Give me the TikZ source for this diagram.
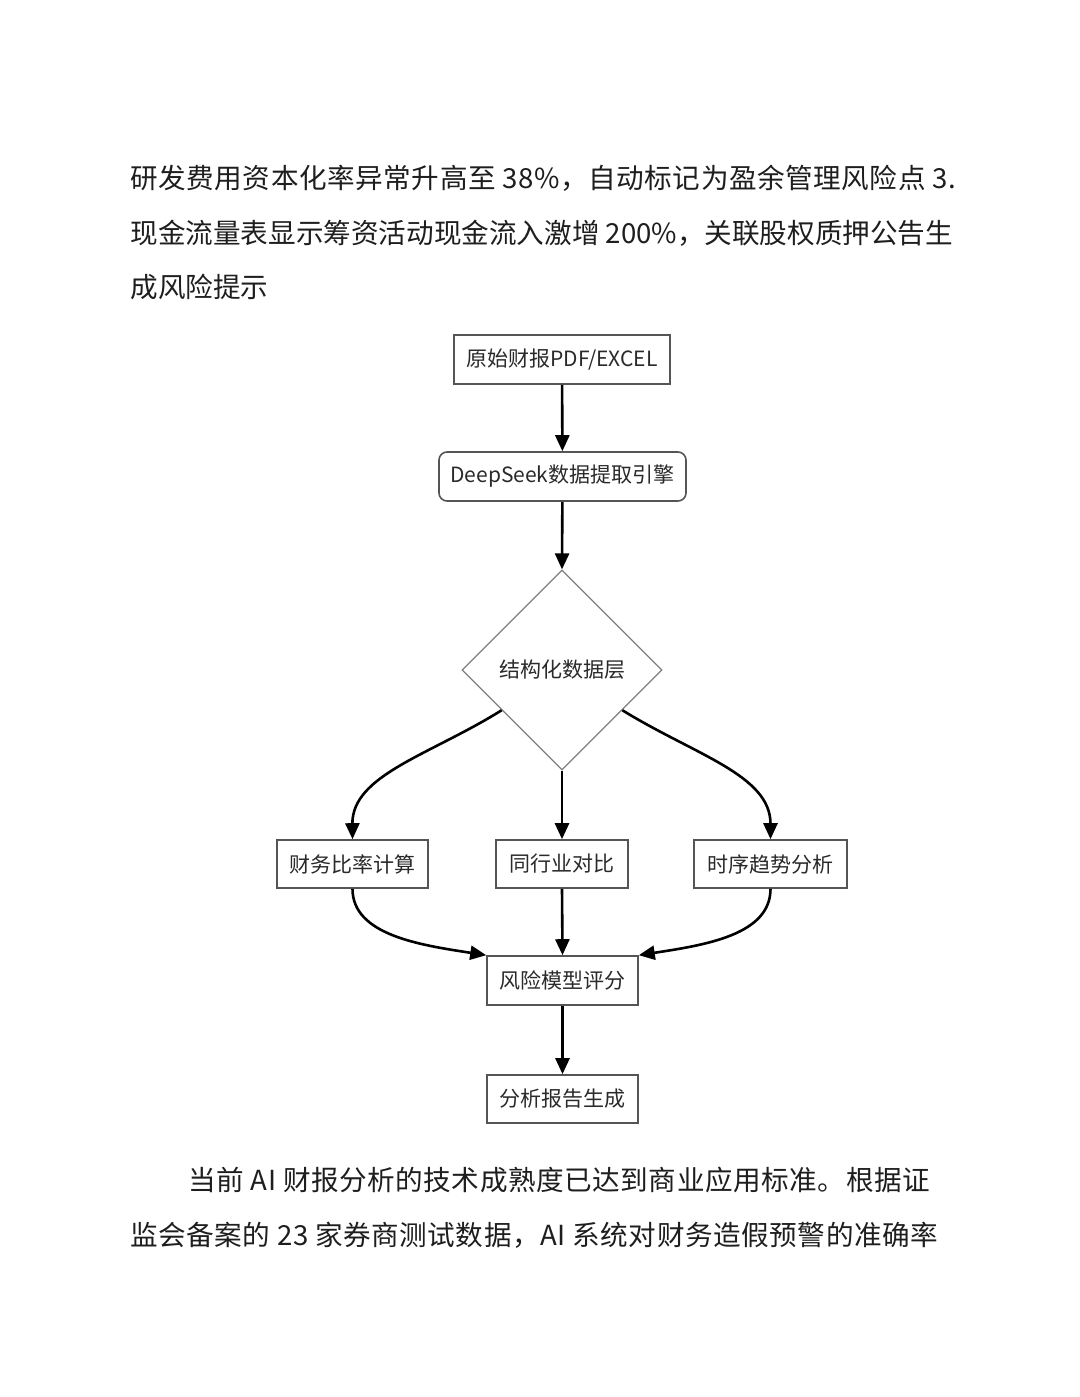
\documentclass[tikz,border=0pt]{standalone}
\usepackage{fontspec}
\setmainfont{Noto Sans CJK SC}
\usetikzlibrary{arrows.meta,shapes.geometric,calc}
\definecolor{boxline}{HTML}{555555}
\definecolor{dialine}{HTML}{808080}
\definecolor{txt}{HTML}{2A2A2A}
\definecolor{bodytxt}{HTML}{1E1E1E}
\begin{document}
\begin{tikzpicture}[x=0.5pt,y=-0.5pt,
  box/.style={draw=boxline,line width=0.8pt,fill=white,inner sep=0pt,text=txt,
    font=\fontsize{10.5pt}{12pt}\selectfont,minimum height=24.5pt},
  rbox/.style={box,rounded corners=4pt},
  dia/.style={draw=dialine,line width=0.6pt,diamond,aspect=1,inner sep=0pt,
    minimum width=100pt,minimum height=100pt,text=txt,font=\fontsize{10.5pt}{12pt}\selectfont},
  conn/.style={line width=1.3pt,-{Triangle[width=7pt,length=8pt]}},
  body/.style={anchor=west,inner sep=0pt,text=bodytxt,font=\fontsize{13.8pt}{16pt}\selectfont},
  wide/.style={font=\fontsize{13.8pt}{16pt}\selectfont\addfontfeature{LetterSpace=2}}
]
\fill[white] (0,0) rectangle (1080,1397);
\useasboundingbox (0,0) rectangle (1080,1397);

% body text
\node[body,wide] (t1) at (130,178) {研发费用资本化率异常升高至 38\%，自动标记为盈余管理风险点 3.};
\node[body] (t2) at (130,233) {现金流量表显示筹资活动现金流入激增 200\%，关联股权质押公告生};
\node[body] (t3) at (130,287) {成风险提示};
\node[body,wide] (t4) at (188,1180) {当前 AI 财报分析的技术成熟度已达到商业应用标准。根据证};
\node[body,wide] (t5) at (130,1235) {监会备案的 23 家券商测试数据，AI 系统对财务造假预警的准确率};

% flowchart nodes
\node[box,minimum width=108pt] (b1) at (562,359.5) {原始财报PDF/EXCEL};
\node[rbox,minimum width=123.5pt] (b2) at (562.5,476.5) {DeepSeek数据提取引擎};
\node[dia] (d) at (562,670) {结构化数据层};
\node[box,minimum width=75.5pt,minimum height=24pt] (b3) at (352.5,864) {财务比率计算};
\node[box,minimum width=66pt,minimum height=24pt] (b4) at (562,864) {同行业对比};
\node[box,minimum width=76.5pt,minimum height=24pt] (b5) at (770.5,864) {时序趋势分析};
\node[box,minimum width=75.5pt] (b6) at (562.5,980.5) {风险模型评分};
\node[box,minimum width=75.5pt,minimum height=24pt] (b7) at (562.5,1099) {分析报告生成};

\coordinate (dl) at ($(d.west)!0.4!(d.south)$);
\coordinate (dr) at ($(d.east)!0.4!(d.south)$);

% connectors
\draw[conn] (b1) -- (b2);
\draw[conn] (b2) -- (d.north);
\draw[conn] (dl) .. controls (430,755) and (352,775) .. (b3.north);
\draw[conn] (d.south) -- (b4.north);
\draw[conn] (dr) .. controls (695,755) and (770.5,775) .. (b5.north);
\draw[conn] (b3.south) .. controls (352.5,935) and (420,945) .. (b6.north west);
\draw[conn] (b4.south) -- (b6.north);
\draw[conn] (b5.south) .. controls (770.5,935) and (705,945) .. (b6.north east);
\draw[conn] (b6) -- (b7);
\end{tikzpicture}
\end{document}
